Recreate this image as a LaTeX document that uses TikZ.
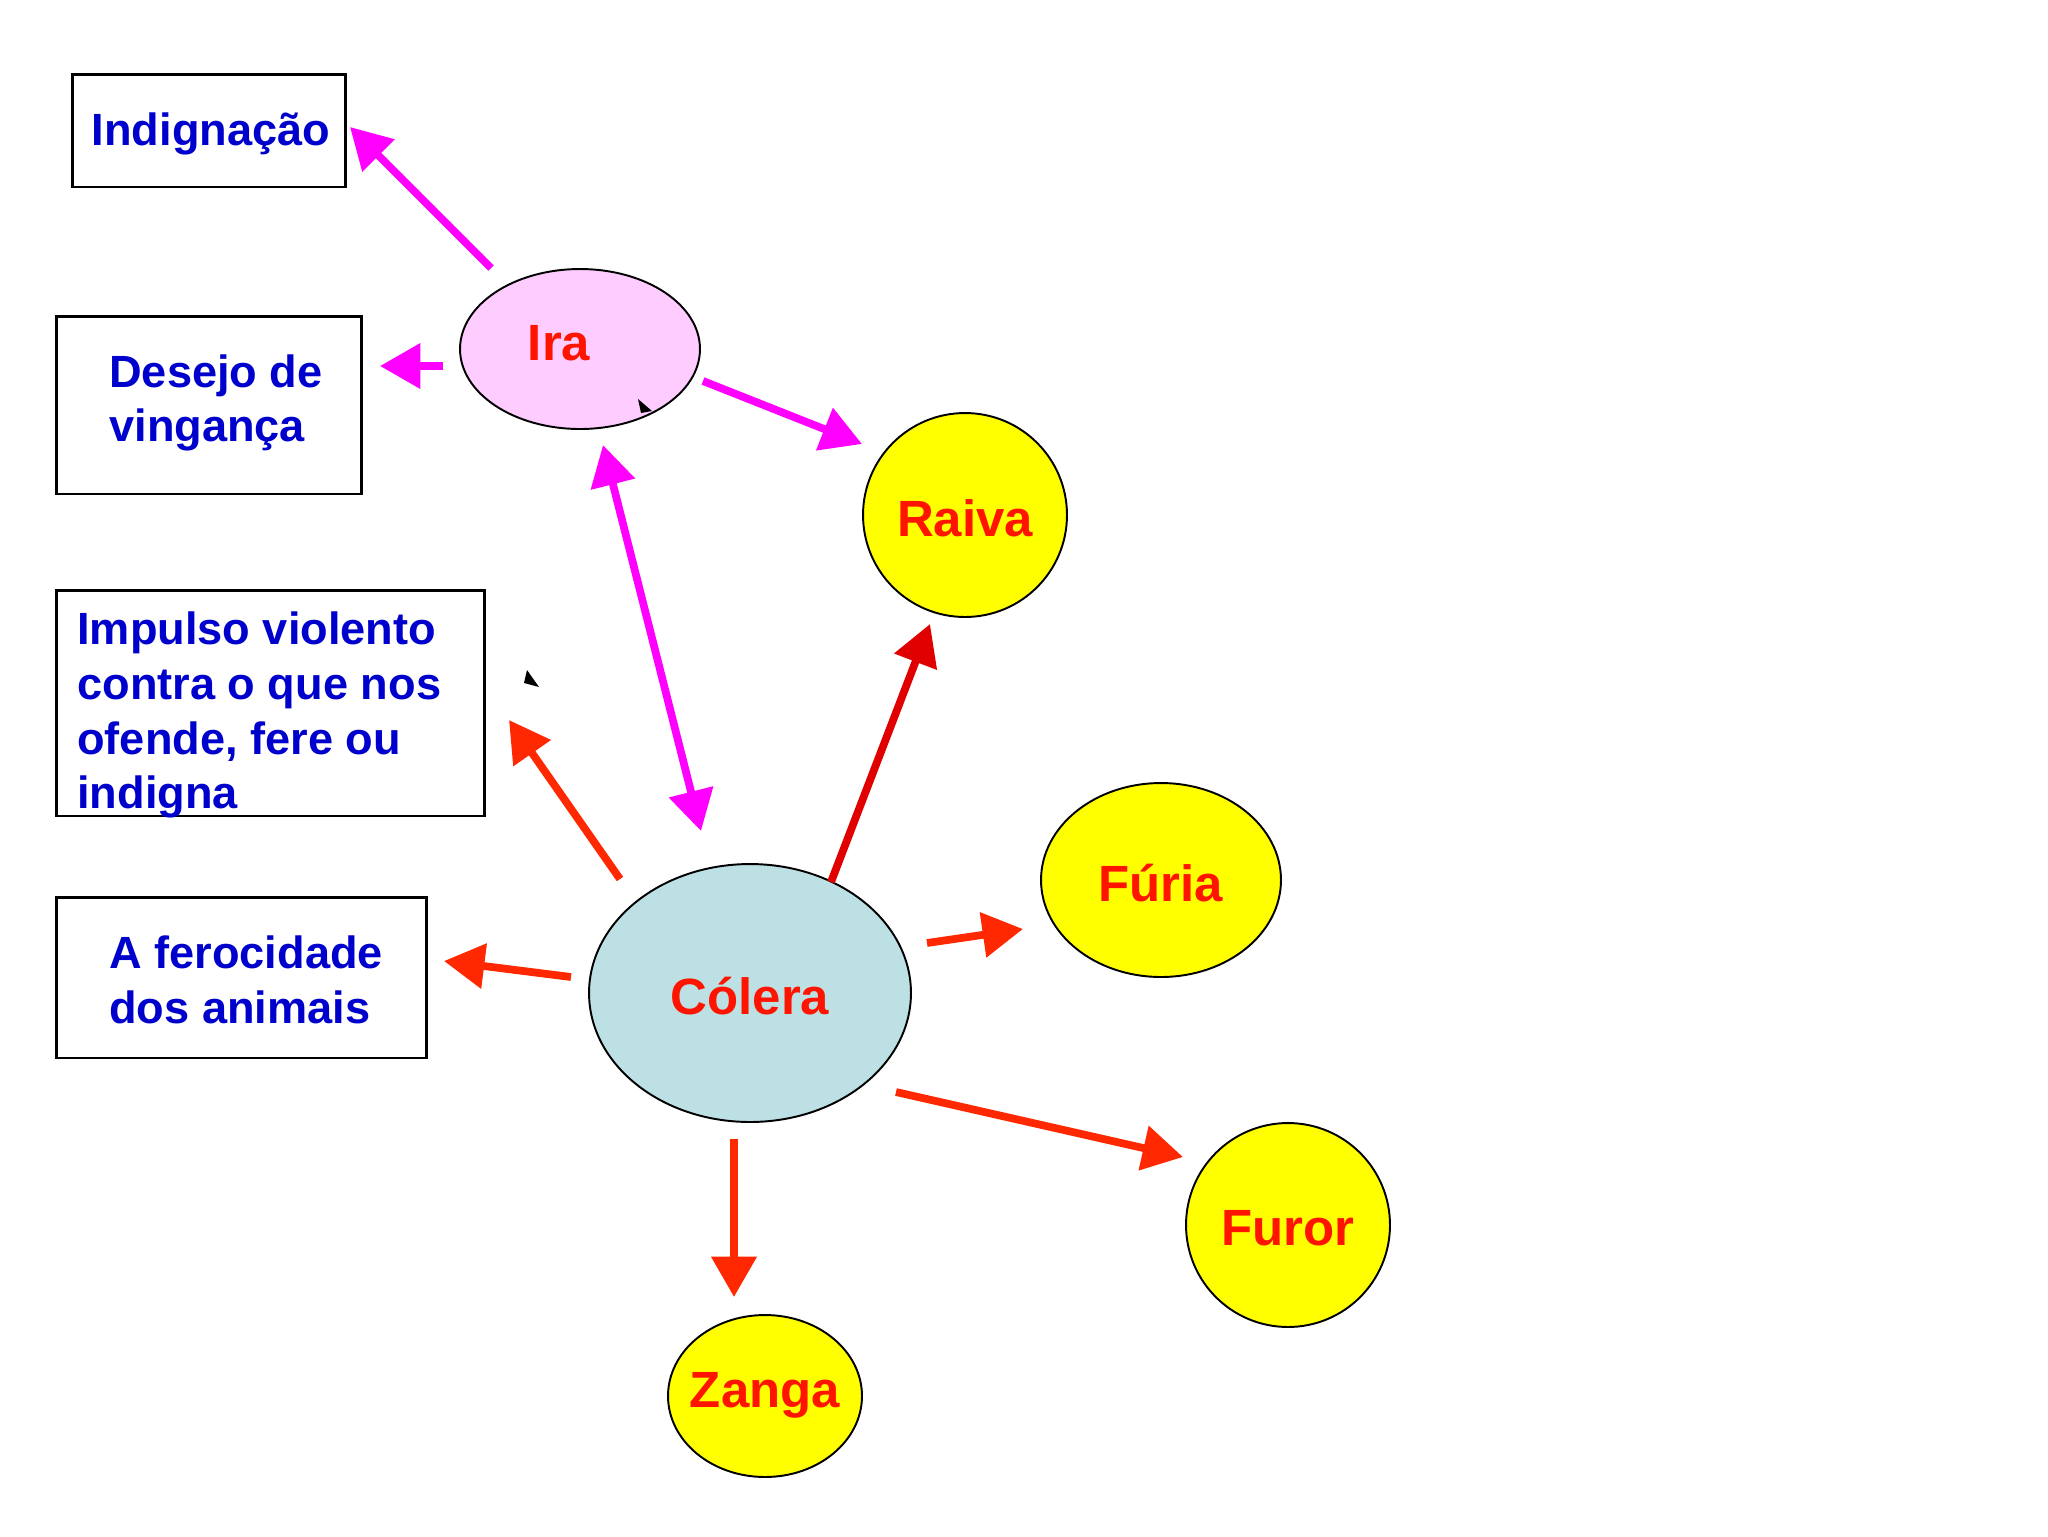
\documentclass[tikz,border=0pt]{standalone}
\usepackage{fontspec}
\setmainfont{Liberation Sans}
\usetikzlibrary{arrows.meta,shapes.geometric}
\definecolor{magA}{RGB}{255,0,255}
\definecolor{redA}{RGB}{255,40,0}
\definecolor{redB}{RGB}{225,0,0}
\definecolor{pinkF}{RGB}{255,204,255}
\definecolor{blueF}{RGB}{188,224,228}
\definecolor{yelF}{RGB}{255,255,0}
\definecolor{blueT}{RGB}{0,0,204}
\definecolor{redT}{RGB}{255,20,0}
\tikzset{
  box/.style={draw=black,line width=1.7pt,inner sep=0pt},
  bluetext/.style={text=blueT,font=\bfseries\fontsize{25.7}{31.2}\selectfont,align=left,inner sep=0pt},
  oval/.style={ellipse,draw=black,line width=1.1pt,inner sep=0pt},
  redtext/.style={text=redT,font=\bfseries\fontsize{29}{34}\selectfont,inner sep=0pt},
  marr/.style={draw=magA,line width=4.4pt,-{Triangle[length=23pt,width=25pt]}},
  rarr/.style={draw=redA,line width=4.4pt,-{Triangle[length=23pt,width=25pt]}},
  darr/.style={draw=redB,line width=4.4pt,-{Triangle[length=23pt,width=25pt]}},
  blackmark/.style={fill=black}
}
\begin{document}
\begin{tikzpicture}[x=0.02cm,y=-0.02cm]
\useasboundingbox[fill=white] (0,0) rectangle (2048,1536);
% boxes
\node[box,minimum width=5.48cm,minimum height=2.26cm] (bindig) at (209,130.5) {};
\node[box,minimum width=6.12cm,minimum height=3.56cm] (bdesejo) at (209,405) {};
\node[box,minimum width=8.58cm,minimum height=4.52cm] (bimpulso) at (270.5,703) {};
\node[box,minimum width=7.42cm,minimum height=3.22cm] (bferoc) at (241.5,977.5) {};
\node[bluetext] (tindig) at (211,134) {Indignação};
\node[bluetext,anchor=west] (tdesejo) at (109,403) {Desejo de\\vingança};
\node[bluetext,anchor=west] (timpulso) at (77,715) {Impulso violento\\contra o que nos\\ofende, fere ou\\indigna};
\node[bluetext,anchor=west] (tferoc) at (109,980) {A ferocidade\\dos animais};
% ovals
\node[oval,fill=pinkF,minimum width=4.8cm,minimum height=3.2cm] (ira) at (580,349) {};
\node[oval,fill=yelF,minimum width=4.08cm,minimum height=4.08cm] (raiva) at (965,515) {};
\node[oval,fill=yelF,minimum width=4.8cm,minimum height=3.88cm] (furia) at (1161,880) {};
\node[oval,fill=blueF,minimum width=6.44cm,minimum height=5.16cm] (colera) at (750,993) {};
\node[oval,fill=yelF,minimum width=4.08cm,minimum height=4.08cm] (furor) at (1288,1225) {};
\node[oval,fill=yelF,minimum width=3.88cm,minimum height=3.24cm] (zanga) at (765,1396) {};
\node[redtext] (tira) at (559,343) {Ira};
\node[redtext] (traiva) at (965,518) {Raiva};
\node[redtext] (tfuria) at (1161,883) {Fúria};
\node[redtext] (tcolera) at (750,996) {Cólera};
\node[redtext] (tfuror) at (1288,1228) {Furor};
\node[redtext] (tzanga) at (765,1395) {Zanga};
% arrow end coordinates
\coordinate (a1s) at (491,268); \coordinate (a1e) at (350,127);
\coordinate (a2s) at (443,366); \coordinate (a2e) at (380,366);
\coordinate (a3s) at (703,381); \coordinate (a3e) at (862,444);
\coordinate (a4s) at (603,445); \coordinate (a4e) at (701,831);
\coordinate (a5s) at (620,879); \coordinate (a5e) at (509,720);
\coordinate (a6s) at (831,882); \coordinate (a6e) at (930,624);
\coordinate (a7s) at (571,977); \coordinate (a7e) at (444,961);
\coordinate (a8s) at (927,943); \coordinate (a8e) at (1023,929);
\coordinate (a9s) at (896,1092); \coordinate (a9e) at (1183,1157);
\coordinate (a10s) at (734,1139); \coordinate (a10e) at (734,1297);
% arrows
\draw[marr] (a1s) -- (a1e);
\draw[marr] (a2s) -- (a2e);
\draw[marr] (a3s) -- (a3e);
\draw[marr,{Triangle[length=23pt,width=25pt]}-{Triangle[length=23pt,width=25pt]}] (a4s) -- (a4e);
\draw[rarr] (a5s) -- (a5e);
\draw[darr] (a6s) -- (a6e);
\draw[rarr] (a7s) -- (a7e);
\draw[rarr] (a8s) -- (a8e);
\draw[rarr] (a9s) -- (a9e);
\draw[rarr] (a10s) -- (a10e);
% stray marks
\fill[blackmark] (638,399) -- (652,411) -- (641,413) -- cycle;
\fill[blackmark] (527,670) -- (539,687) -- (524,683) -- cycle;
\end{tikzpicture}
\end{document}
